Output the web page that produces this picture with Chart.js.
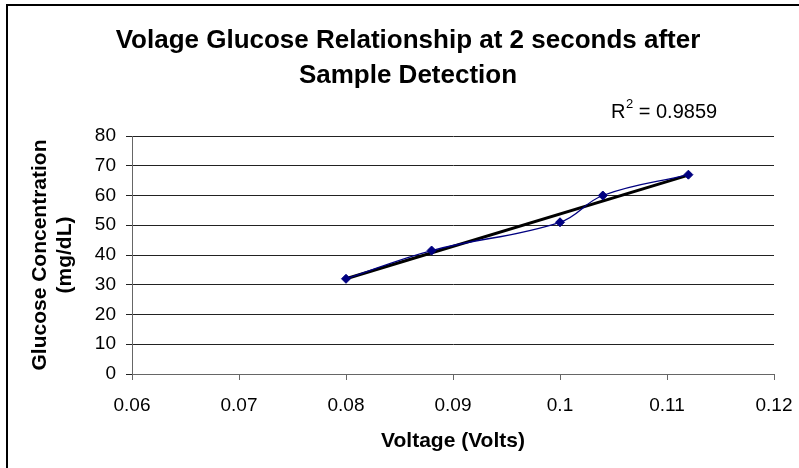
<!DOCTYPE html>
<html>
<head>
<meta charset="utf-8">
<script src="https://cdn.jsdelivr.net/npm/chart.js@4/dist/chart.umd.min.js"></script>
<style>
  body { margin: 0; background: #fff; }
  #wrap { width: 799px; height: 468px; }
</style>
</head>
<body>
<div id="wrap"><canvas id="chart" width="799" height="468"></canvas></div>
<script>
// ─── Data ────────────────────────────────────────────────────────────
const voltage = [0.08, 0.088, 0.1, 0.104, 0.112];
const glucose = [32, 41.5, 51, 60, 67];
const xTicks = [0.06, 0.07, 0.08, 0.09, 0.1, 0.11, 0.12];
const xTickLabels = ['0.06', '0.07', '0.08', '0.09', '0.1', '0.11', '0.12'];
const yTicks = [0, 10, 20, 30, 40, 50, 60, 70, 80];
const titleLines = ['Volage Glucose Relationship at 2 seconds after', 'Sample Detection'];
const yTitleLines = ['Glucose Concentration', '(mg/dL)'];
const xTitle = 'Voltage (Volts)';
const r2Value = '0.9859';

const FONT = "'Liberation Sans', Arial, sans-serif";

// least-squares trendline, like Excel's linear trendline
function linearFit(xs, ys) {
    const n = xs.length;
    const mx = xs.reduce((a, b) => a + b, 0) / n;
    const my = ys.reduce((a, b) => a + b, 0) / n;
    let sxy = 0, sxx = 0;
    for (let i = 0; i < n; i++) {
        sxy += (xs[i] - mx) * (ys[i] - my);
        sxx += (xs[i] - mx) * (xs[i] - mx);
    }
    const slope = sxy / sxx;
    return x => my + slope * (x - mx);
}
const fit = linearFit(voltage, glucose);
const xMin = Math.min(...voltage), xMax = Math.max(...voltage);
const trendPoints = [{ x: xMin, y: fit(xMin) }, { x: xMax, y: fit(xMax) }];

// ─── Text & frame plugin ─────────────────────────────────────────────
const decorations = {
    id: 'decorations',
    beforeDraw(chart) {
        const ctx = chart.ctx;
        ctx.save();
        ctx.fillStyle = '#fff';
        ctx.fillRect(0, 0, chart.width, chart.height);
        ctx.restore();
    },
    afterDraw(chart) {
        const ctx = chart.ctx;
        const area = chart.chartArea;
        ctx.save();

        // outer chart border (right/bottom fall outside the crop)
        ctx.strokeStyle = '#000';
        ctx.lineWidth = 2;
        ctx.strokeRect(7, 5, 1000, 1000);

        ctx.fillStyle = '#000';
        ctx.textAlign = 'center';
        ctx.textBaseline = 'alphabetic';
        ctx.font = 'bold 26px ' + FONT;
        ctx.fillText(titleLines[0], 408, 48);
        ctx.fillText(titleLines[1], 408, 83);

        // R² label
        ctx.textAlign = 'left';
        ctx.font = '20px ' + FONT;
        let x = 611;
        ctx.fillText('R', x, 118);
        x += ctx.measureText('R').width;
        ctx.font = '13px ' + FONT;
        ctx.fillText('2', x + 0.5, 108);
        x += ctx.measureText('2').width + 0.5;
        ctx.font = '20px ' + FONT;
        ctx.fillText(' = ' + r2Value, x, 118);

        // axis titles
        ctx.font = 'bold 21px ' + FONT;
        ctx.textAlign = 'center';
        ctx.fillText(xTitle, (area.left + area.right) / 2, 447);

        const cy = (area.top + area.bottom) / 2;
        ctx.textBaseline = 'middle';
        [40, 65].forEach((cx, i) => {
            ctx.save();
            ctx.translate(cx, cy);
            ctx.rotate(-Math.PI / 2);
            ctx.fillText(yTitleLines[i], 0, 0);
            ctx.restore();
        });
        ctx.restore();
    }
};

// ─── Chart ───────────────────────────────────────────────────────────
new Chart(document.getElementById('chart'), {
    type: 'scatter',
    data: {
        datasets: [{
            label: 'Glucose',
            data: voltage.map((v, i) => ({ x: v, y: glucose[i] })),
            showLine: true,
            tension: 0.4,
            borderColor: '#000080',
            borderWidth: 1.3,
            backgroundColor: '#000080',
            pointStyle: 'rectRot',
            pointRadius: 4.5,
            pointBorderWidth: 1,
            pointBorderColor: '#000080',
            pointBackgroundColor: '#000080'
        }, {
            label: 'Linear',
            data: trendPoints,
            showLine: true,
            borderColor: '#000',
            borderWidth: 3,
            pointRadius: 0,
            tension: 0
        }]
    },
    options: {
        responsive: false,
        animation: false,
        layout: {
            autoPadding: false,
            padding: { top: 136, right: 25, left: 0, bottom: 0 }
        },
        plugins: {
            legend: { display: false },
            tooltip: { enabled: false },
            title: { display: false }
        },
        scales: {
            x: {
                type: 'linear',
                min: xTicks[0],
                max: xTicks[xTicks.length - 1],
                afterBuildTicks: s => { s.ticks = xTicks.map(v => ({ value: v })); },
                afterFit: s => {
                    s.height = 94;
                    // let the plot run right up to the layout padding
                    s.paddingLeft = 0;
                    s.paddingRight = 0;
                },
                ticks: {
                    color: '#000',
                    font: { family: FONT, size: 19 },
                    padding: 14,
                    maxRotation: 0,
                    autoSkip: false,
                    callback: (v, i) => xTickLabels[i]
                },
                grid: {
                    drawOnChartArea: false,
                    drawTicks: true,
                    tickLength: 6,
                    color: '#666'
                },
                border: { display: true, color: '#666', width: 1 }
            },
            y: {
                min: yTicks[0],
                max: yTicks[yTicks.length - 1],
                afterBuildTicks: s => { s.ticks = yTicks.map(v => ({ value: v })); },
                afterFit: s => { s.width = 132; },
                ticks: {
                    color: '#000',
                    font: { family: FONT, size: 19 },
                    padding: 10,
                    autoSkip: false
                },
                grid: {
                    color: '#222',
                    lineWidth: 1,
                    drawTicks: true,
                    tickLength: 6
                },
                border: { display: true, color: '#666', width: 1 }
            }
        }
    },
    plugins: [decorations]
});
</script>
</body>
</html>
